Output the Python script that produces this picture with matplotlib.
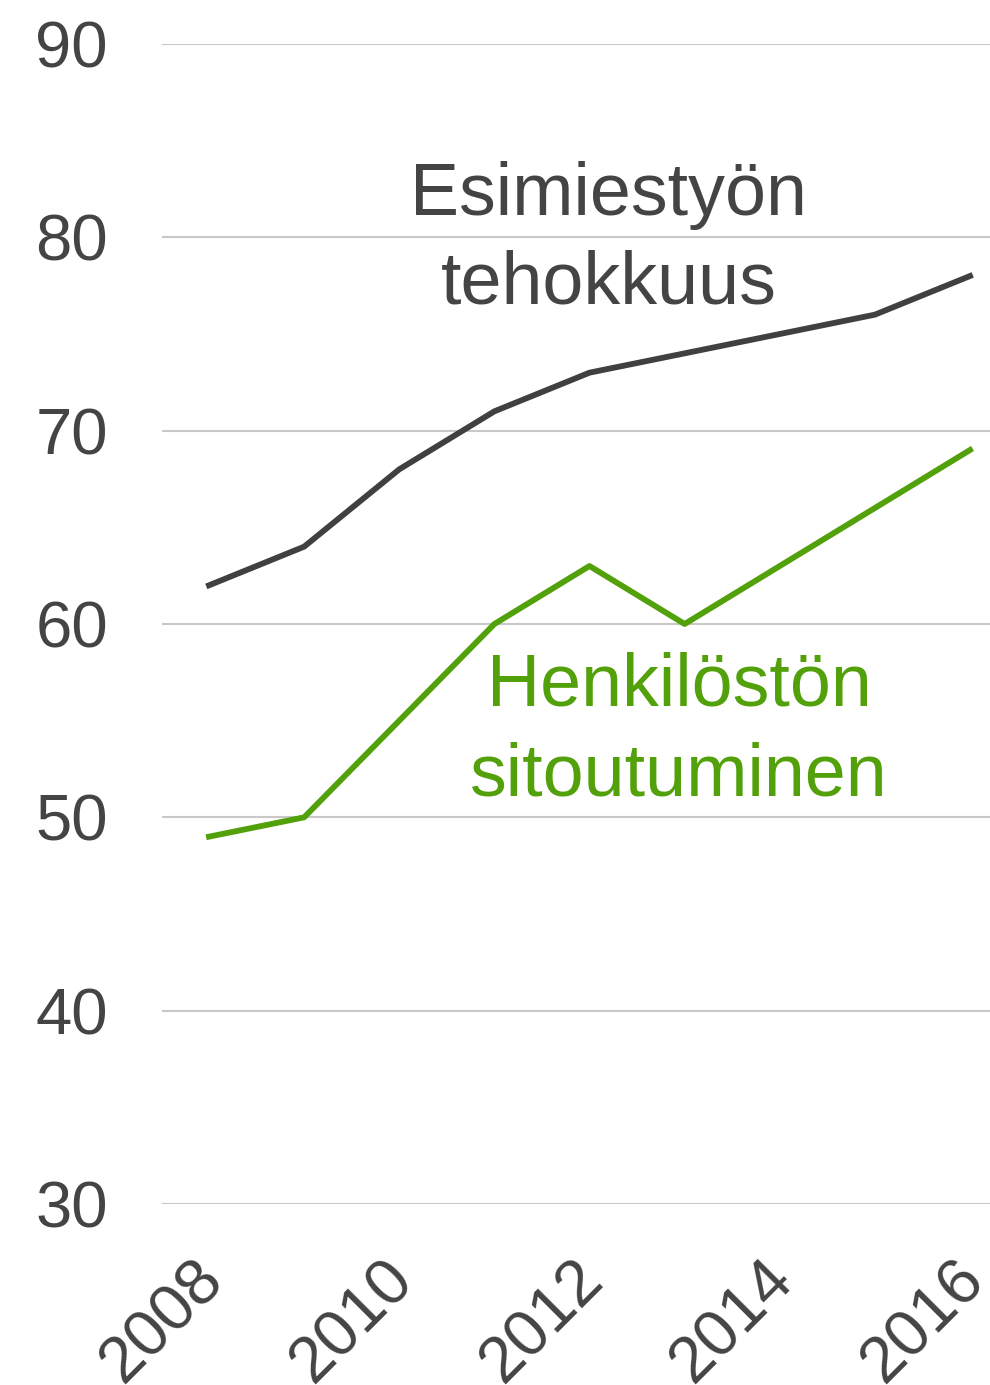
import matplotlib
matplotlib.use("Agg")
from matplotlib import pyplot as plt

plt.rcParams["font.family"] = ["Liberation Sans", "DejaVu Sans"]

YEARS = [2008, 2009, 2010, 2011, 2012, 2013, 2014, 2015, 2016]
ESIMIESTYO = [62, 64, 68, 71, 73, 74, 75, 76, 78]
SITOUTUMINEN = [49, 50, 55, 60, 63, 60, 63, 66, 69]
Y_TICKS = [30, 40, 50, 60, 70, 80, 90]
X_TICKS = [2008, 2010, 2012, 2014, 2016]

DARK = "#404040"
GREEN = "#52a00a"
TEXT = "#444444"

fig = plt.figure(figsize=(9.9, 13.85), dpi=100)
ax = fig.add_axes([162 / 990, 181 / 1385, 828 / 990, 1160 / 1385])

ax.plot(YEARS, ESIMIESTYO, color=DARK, lw=4.2, zorder=3)
ax.plot(YEARS, SITOUTUMINEN, color=GREEN, lw=4.2, zorder=3)

ax.set_xlim(2007.506, 2016.21)
ax.set_ylim(30, 90)
ax.set_yticks(Y_TICKS)
ax.set_xticks(X_TICKS)
ax.set_xticklabels([str(x) for x in X_TICKS], rotation=45, ha="right",
                   va="center_baseline", rotation_mode="anchor")
ax.tick_params(axis="y", length=0, pad=39, labelsize=47, labelcolor=TEXT)
ax.tick_params(axis="x", length=0, pad=44, labelsize=47, labelcolor=TEXT)
ax.grid(axis="y", color="#c8c8c8", lw=1.5, zorder=1)
for s in ax.spines.values():
    s.set_visible(False)

# series labels, one text per line
ax.text(2012.2, 81.15, "Esimiestyön", ha="center", va="baseline",
        fontsize=53, color=TEXT)
ax.text(2012.2, 76.6, "tehokkuus", ha="center", va="baseline",
        fontsize=53, color=TEXT)
ax.text(2012.94, 55.8, "Henkilöstön", ha="center", va="baseline",
        fontsize=53, color=GREEN)
ax.text(2012.94, 51.15, "sitoutuminen", ha="center", va="baseline",
        fontsize=53, color=GREEN)

plt.savefig("out.png", dpi=100)
